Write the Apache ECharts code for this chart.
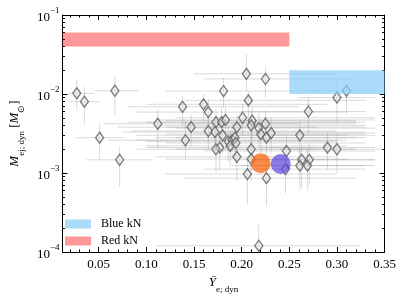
<!DOCTYPE html>
<html>
<head>
<meta charset="utf-8">
<script src="https://cdn.jsdelivr.net/npm/echarts@6/dist/echarts.min.js"></script>
<style>html,body{margin:0;padding:0;background:#fff}#c{width:399px;height:299px}</style>
</head>
<body>
<div id="c"></div>
<script>
// ---- data ----
const yeDyn  = [0.027,0.035,0.067,0.051,0.072,0.112,0.205,0.225,0.181,0.207,0.138,0.160,0.165,0.147,0.141,0.173,0.179,0.183,0.165,0.172,0.180,0.195,0.201,0.211,0.210,0.218,0.220,0.225,0.231,0.226,0.186,0.190,0.193,0.188,0.194,0.177,0.173,0.195,0.210,0.206,0.226,0.247,0.246,0.210,0.310,0.300,0.270,0.261,0.290,0.300,0.263,0.271,0.261,0.269,0.218];
const mejDyn = [0.0102,0.0080,0.0110,0.0028,0.00147,0.0042,0.0180,0.0155,0.0109,0.0083,0.0069,0.0074,0.0059,0.0038,0.0026,0.0044,0.0044,0.0047,0.0034,0.0033,0.0030,0.0038,0.0050,0.0046,0.0040,0.0037,0.0031,0.0042,0.0032,0.0028,0.0025,0.0026,0.0028,0.0022,0.0024,0.0021,0.0020,0.0016,0.0020,0.00097,0.00086,0.0019,0.00112,0.0015,0.0110,0.0090,0.0060,0.0030,0.0021,0.0020,0.00147,0.00147,0.00124,0.00124,0.00012];
const yeLow  = [0.018,0.018,0.046,0.026,0.037,0.056,0.15,0.16,0.12,0.14,0.08,0.10,0.09,0.07,0.06,0.08,0.10,0.11,0.085,0.075,0.09,0.12,0.13,0.12,0.11,0.13,0.12,0.14,0.15,0.13,0.10,0.09,0.11,0.10,0.12,0.10,0.09,0.11,0.13,0.12,0.14,0.16,0.16,0.12,0.27,0.26,0.20,0.18,0.22,0.24,0.20,0.21,0.19,0.20,0.11];
const yeHigh = [0.046,0.052,0.092,0.076,0.106,0.26,0.30,0.32,0.28,0.33,0.26,0.29,0.31,0.28,0.30,0.33,0.32,0.34,0.30,0.33,0.31,0.33,0.34,0.32,0.33,0.34,0.33,0.32,0.34,0.33,0.30,0.31,0.32,0.31,0.33,0.29,0.28,0.30,0.32,0.30,0.32,0.34,0.33,0.31,0.35,0.34,0.33,0.34,0.34,0.35,0.34,0.34,0.33,0.34,0.325];
const mejLow = [0.0063,0.0041,0.0055,0.0015,0.00067,0.0020,0.011,0.009,0.0068,0.0050,0.0040,0.0045,0.0032,0.0022,0.0015,0.0025,0.0028,0.0030,0.0020,0.0019,0.0018,0.0023,0.0030,0.0027,0.0022,0.0021,0.0018,0.0025,0.0018,0.0016,0.0014,0.0015,0.0016,0.0012,0.0013,0.0011,0.0010,0.00080,0.0011,0.00040,0.00038,0.0010,0.00055,0.00080,0.0055,0.0044,0.0030,0.0017,0.0011,0.0010,0.00065,0.00070,0.00060,0.00062,0.00005];
const mejHigh= [0.0155,0.0123,0.0169,0.0043,0.0022,0.0063,0.032,0.022,0.016,0.011,0.0095,0.0100,0.0085,0.0055,0.0045,0.0065,0.0070,0.0068,0.0050,0.0050,0.0045,0.0055,0.0075,0.0070,0.0060,0.0058,0.0048,0.0062,0.0050,0.0042,0.0040,0.0040,0.0042,0.0035,0.0038,0.0035,0.0032,0.0026,0.0032,0.0016,0.0015,0.0030,0.0018,0.0025,0.0130,0.0138,0.0089,0.0048,0.0033,0.0032,0.0024,0.0024,0.0020,0.0020,0.00023];
const orangePoint = [0.220, 0.00133];
const purplePoint = [0.241, 0.00130];
const blueKN = [0.25, 0.35, 0.010, 0.020];   // x0, x1, y0, y1
const redKN  = [0.012, 0.25, 0.040, 0.060];
const xTickLabels = ['0.05','0.10','0.15','0.20','0.25','0.30','0.35'];
const yTickValues = [1e-4, 1e-3, 1e-2, 1e-1];
const xMin = 0.012, xMax = 0.35, yMin = 1e-4, yMax = 1e-1;

// ---- derived tick positions ----
const xMajor = xTickLabels.map(Number);
const xMinor = [];
for (let i = 2; i <= 34; i++) { if (i % 5 !== 0) xMinor.push(i / 100); }
const yMinor = [];
for (let e = -4; e <= -2; e++) for (let k = 2; k <= 9; k++) yMinor.push(k * Math.pow(10, e));

const FONT = 'Liberation Serif';
const errData = yeDyn.map((x, i) => [x, mejDyn[i], yeLow[i], yeHigh[i], mejLow[i], mejHigh[i]]);

function xAx(pos, major, withLabel) {
  return {
    type: 'value', min: xMin, max: xMax, position: pos, gridIndex: 0,
    axisLine: { show: major, onZero: false, lineStyle: { color: '#000', width: 1 } },
    axisTick: { show: true, inside: true, length: major ? 5 : 2.5, customValues: major ? xMajor : xMinor, lineStyle: { color: '#000', width: 1 } },
    axisLabel: withLabel ? { show: true, customValues: xMajor, formatter: v => v.toFixed(2), fontFamily: FONT, fontSize: 13, color: '#000', margin: 6 } : { show: false },
    splitLine: { show: false }
  };
}
function yAx(pos, major, withLabel) {
  return {
    type: 'log', logBase: 10, min: yMin, max: yMax, position: pos, gridIndex: 0,
    axisLine: { show: major, onZero: false, lineStyle: { color: '#000', width: 1 } },
    axisTick: { show: true, inside: true, length: major ? 5 : 2.5, customValues: major ? yTickValues : yMinor, lineStyle: { color: '#000', width: 1 } },
    axisLabel: withLabel ? {
      show: true, customValues: yTickValues, margin: 3,
      formatter: v => '{b|10}{s|\u2212' + Math.round(-Math.log10(v)) + '}',
      rich: {
        b: { fontFamily: FONT, fontSize: 13, color: '#000', lineHeight: 18, verticalAlign: 'bottom' },
        s: { fontFamily: FONT, fontSize: 9, color: '#000', lineHeight: 10, verticalAlign: 'top' }
      }
    } : { show: false },
    splitLine: { show: false }, minorTick: { show: false }
  };
}

const xAxes = [xAx('bottom', true, true), xAx('bottom', false, false), xAx('top', true, false), xAx('top', false, false)];
xAxes[0].name = '{i|\u0232}{sub|e; dyn}';
xAxes[0].nameLocation = 'middle';
xAxes[0].nameGap = 22;
xAxes[0].nameTextStyle = {
  rich: {
    i: { fontFamily: FONT, fontStyle: 'italic', fontSize: 13, color: '#000', lineHeight: 18, verticalAlign: 'top' },
    sub: { fontFamily: FONT, fontSize: 9, color: '#000', lineHeight: 9, verticalAlign: 'bottom' }
  }
};
const yAxes = [yAx('left', true, true), yAx('left', false, false), yAx('right', true, false), yAx('right', false, false)];
yAxes[0].name = '{i|M}{sub|ej; dyn}{n| [}{i|M}{sub|\u2299}{n|]}';
yAxes[0].nameLocation = 'middle';
yAxes[0].nameRotate = 90;
yAxes[0].nameGap = 31;
yAxes[0].nameTextStyle = {
  rich: {
    i: { fontFamily: FONT, fontStyle: 'italic', fontSize: 13, color: '#000', lineHeight: 18, verticalAlign: 'top' },
    n: { fontFamily: FONT, fontSize: 13, color: '#000', lineHeight: 18, verticalAlign: 'top' },
    sub: { fontFamily: FONT, fontSize: 9, color: '#000', lineHeight: 9, verticalAlign: 'bottom' }
  }
};

function rectItem(params, api) {
  const a = api.coord([api.value(0), api.value(3)]);
  const b = api.coord([api.value(1), api.value(2)]);
  return { type: 'rect', shape: { x: a[0], y: a[1], width: b[0] - a[0], height: b[1] - a[1] }, style: { fill: api.visual('color') } };
}

const chart = echarts.init(document.getElementById('c'), null, { renderer: 'canvas' });
chart.setOption({
  animation: false,
  backgroundColor: '#fff',
  grid: { left: 59, right: 10, top: 15, bottom: 47, containLabel: false },
  xAxis: xAxes,
  yAxis: yAxes,
  legend: {
    data: ['Blue kN', 'Red kN'], orient: 'vertical', left: 65, top: 218, padding: 0,
    itemWidth: 26, itemHeight: 9, itemGap: 5, icon: 'rect',
    textStyle: { fontFamily: FONT, fontSize: 12, color: '#000', padding: [0, 0, 0, 5] }, selectedMode: false
  },
  series: [
    {
      type: 'custom', name: 'err', xAxisIndex: 0, yAxisIndex: 0, clip: true, z: 1,
      encode: { x: [0, 2, 3], y: [1, 4, 5] }, data: errData,
      renderItem: (params, api) => {
        const c = api.coord([api.value(0), api.value(1)]);
        const l = api.coord([api.value(2), api.value(1)]);
        const r = api.coord([api.value(3), api.value(1)]);
        const lo = api.coord([api.value(0), api.value(4)]);
        const hi = api.coord([api.value(0), api.value(5)]);
        const st = { stroke: 'rgba(140,140,140,0.32)', lineWidth: 1 };
        return { type: 'group', children: [
          { type: 'line', shape: { x1: l[0], y1: c[1], x2: r[0], y2: c[1] }, style: st },
          { type: 'line', shape: { x1: c[0], y1: lo[1], x2: c[0], y2: hi[1] }, style: st }
        ] };
      }
    },
    {
      type: 'scatter', name: 'pts', xAxisIndex: 0, yAxisIndex: 0, z: 3,
      symbol: 'diamond', symbolSize: [8, 11],
      itemStyle: { color: 'rgba(235,235,235,0.6)', borderColor: '#5e5e5e', borderWidth: 1.4 },
      data: yeDyn.map((x, i) => [x, mejDyn[i]])
    },
    {
      type: 'scatter', name: 'orange', xAxisIndex: 0, yAxisIndex: 0, z: 4,
      symbol: 'circle', symbolSize: 20, itemStyle: { color: 'rgba(248,100,12,0.92)' }, data: [orangePoint]
    },
    {
      type: 'scatter', name: 'purple', xAxisIndex: 0, yAxisIndex: 0, z: 4,
      symbol: 'circle', symbolSize: 20, itemStyle: { color: 'rgba(88,62,220,0.85)' }, data: [purplePoint]
    },
    {
      type: 'custom', name: 'Blue kN', xAxisIndex: 0, yAxisIndex: 0, clip: true, z: 5,
      encode: { x: [0, 1], y: [2, 3] }, data: [blueKN], renderItem: rectItem,
      itemStyle: { color: 'rgba(135,206,250,0.7)' }
    },
    {
      type: 'custom', name: 'Red kN', xAxisIndex: 0, yAxisIndex: 0, clip: true, z: 5,
      encode: { x: [0, 1], y: [2, 3] }, data: [redKN], renderItem: rectItem,
      itemStyle: { color: 'rgba(255,0,0,0.4)' }
    }
  ]
});
</script>
</body>
</html>
